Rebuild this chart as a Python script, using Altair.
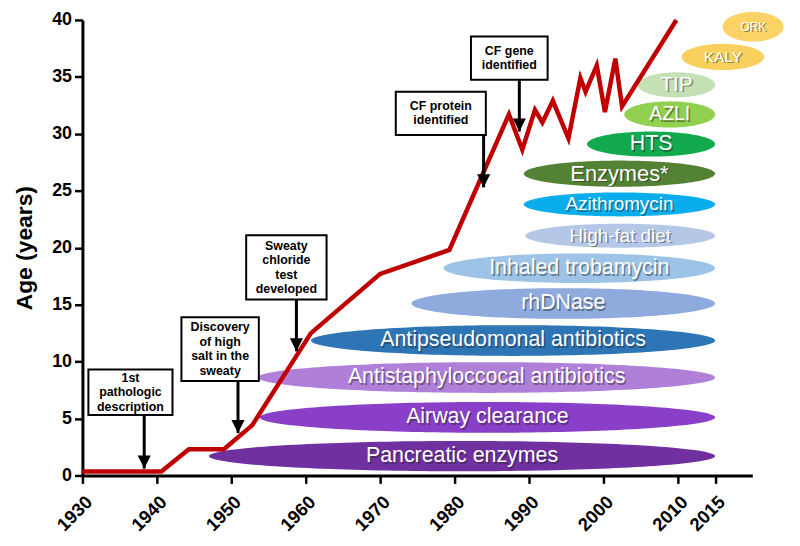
import altair as alt
import numpy as np
import pandas as pd

# ---- survival curve (median predicted age of survival) ----
curve_year = [1930, 1940.6, 1944.3, 1949, 1952.8, 1960.7, 1970, 1979.3, 1987.3, 1989.1,
              1990.8, 1991.8, 1993.2, 1995.3, 1996.9, 1997.6, 1999.1, 2000.2, 2001.6,
              2002.5, 2009.8]
curve_age = [0.35, 0.35, 2.3, 2.3, 4.4, 12.5, 17.7, 19.8, 31.7, 28.6,
             32.1, 31.0, 32.9, 29.6, 34.9, 33.7, 36.0, 31.9, 36.6,
             32.4, 40.0]

# ---- therapies (ellipses) ----
therapy = ["Pancreatic enzymes", "Airway clearance", "Antistaphyloccocal antibiotics",
           "Antipseudomonal antibiotics", "rhDNase", "Inhaled trobamycin", "High-fat diet",
           "Azithromycin", "Enzymes*", "HTS", "AZLI", "TIP", "KALY", "ORK"]
therapy_start = [1947, 1953.8, 1953.6, 1960.7, 1974.2, 1978.5, 1989.5,
                 1989.3, 1989.3, 1997.8, 2002.8, 2004.6, 2010.5, 2016]
therapy_end = [2015, 2015, 2015, 2015, 2015, 2015, 2015,
               2015, 2015, 2015, 2015, 2015, 2021.6, 2024.2]
therapy_age = [1.7, 5.1, 8.6, 11.85, 15.1, 18.2, 21.05,
               23.8, 26.5, 29.1, 31.7, 34.3, 36.75, 39.4]
therapy_half = [1.33, 1.35, 1.35, 1.35, 1.35, 1.3, 1.05,
                1.05, 1.15, 1.1, 1.15, 1.1, 1.15, 1.3]

# ---- annotations ----
note_lines = [["1st", "pathologic", "description"],
              ["Discovery", "of high", "salt in the", "sweaty"],
              ["Sweaty", "chloride", "test", "developed"],
              ["CF protein", "identified"],
              ["CF gene", "identified"]]
note_year = [1938.3, 1950.9, 1958.75, 1983.9, 1988.7]
note_tip = [0.6, 3.72, 10.9, 25.3, 30.2]
box_left = [1930.8, 1943.3, 1952.0, 1972.1, 1982.2]
box_right = [1942.1, 1953.7, 1962.8, 1984.2, 1992.5]
box_top = [9.3, 13.9, 21.1, 33.7, 38.55]
box_bottom = [5.3, 8.3, 15.45, 29.9, 34.75]

tick_years = [1930, 1940, 1950, 1960, 1970, 1980, 1990, 2000, 2010, 2015]

# ---- styles ----
therapy_colors = ["#7030A0", "#8A3FC8", "#B07FD8", "#2E75B6", "#8FAADC", "#9DC3E6", "#B4C7E7",
                  "#0AADEB", "#548235", "#13AA4E", "#92D050", "#C5E0B4", "#F9CF5E", "#FAD266"]
label_sizes = [21.5, 21.5, 21.5, 21.5, 21.5, 21.5, 19, 19, 22, 21.5, 19.5, 21, 15.5, 12]
FONT = "Liberation Sans"
W, H = 675, 459
Y_MAX = 40
LINE_GAP = 14.5 * Y_MAX / H   # 14.5 px between text lines, in age units

# ---- tables ----
curve = pd.DataFrame({"year": curve_year, "age": curve_age})
ther = pd.DataFrame({"name": therapy, "start": therapy_start, "end": therapy_end,
                     "age": therapy_age, "half": therapy_half, "fs": label_sizes})
ther["mid"] = (ther["start"] + ther["end"]) / 2

t = np.linspace(0, np.pi, 90)
rows = []
for _, r in ther.iterrows():
    a = (r["end"] - r["start"]) / 2
    for tt in t:
        rows.append({"name": r["name"], "x": r["mid"] - a * np.cos(tt),
                     "up": r["age"] + r["half"] * np.sin(tt),
                     "lo": r["age"] - r["half"] * np.sin(tt)})
shape = pd.DataFrame(rows)

notes = pd.DataFrame({"year": note_year, "tip": note_tip,
                      "l": box_left, "r": box_right, "t": box_top, "b": box_bottom})
line_rows = []
for i, lines in enumerate(note_lines):
    cx = (box_left[i] + box_right[i]) / 2
    cy = (box_top[i] + box_bottom[i]) / 2
    n = len(lines)
    for j, s in enumerate(lines):
        line_rows.append({"text": s, "cx": cx, "cy": cy + ((n - 1) / 2 - j) * LINE_GAP})
note_text = pd.DataFrame(line_rows)

xs = alt.Scale(domain=[1930, 2020], nice=False, zero=False)
ys = alt.Scale(domain=[0, Y_MAX], nice=False)
xaxis = alt.Axis(values=tick_years, format="d", labelAngle=-45, title=None, grid=False,
                 labelFontSize=18.5, labelFontWeight="bold", labelFont=FONT, labelColor="black",
                 domainColor="black", domainWidth=3, tickColor="black", tickWidth=2.5,
                 tickSize=8, labelPadding=9, labelOverlap=False)
yaxis = alt.Axis(values=list(range(0, 41, 5)), title="Age (years)", grid=False,
                 labelFontSize=18, labelFontWeight="bold", labelFont=FONT, labelColor="black",
                 titleFontSize=23, titleFontWeight="bold", titleFont=FONT, titleColor="black",
                 titlePadding=15, domainColor="black", domainWidth=3, tickColor="black",
                 tickWidth=2.5, tickSize=8, labelPadding=3)


def X(f):
    return alt.X(f, scale=xs, axis=xaxis)


def Y(f):
    return alt.Y(f, scale=ys, axis=yaxis)


ellipses = alt.Chart(shape).mark_area(opacity=1).encode(
    x=X("x:Q"), y=Y("up:Q"), y2="lo:Q",
    color=alt.Color("name:N", scale=alt.Scale(domain=therapy, range=therapy_colors), legend=None),
    detail="name:N",
)

shadow = alt.Chart(ther).mark_text(font=FONT, color="#222222", opacity=0.45, dx=1.5, dy=1.5,
                                   baseline="middle").encode(
    x=X("mid:Q"), y=Y("age:Q"), text="name:N",
    size=alt.Size("fs:Q", scale=None, legend=None))
labels = alt.Chart(ther).mark_text(font=FONT, color="white", baseline="middle").encode(
    x=X("mid:Q"), y=Y("age:Q"), text="name:N",
    size=alt.Size("fs:Q", scale=None, legend=None))

line = alt.Chart(curve).mark_line(color="#C00000", strokeWidth=4.5, strokeJoin="miter").encode(
    x=X("year:Q"), y=Y("age:Q"))

boxes = alt.Chart(notes).mark_rect(fill="white", stroke="black", strokeWidth=2).encode(
    x=X("l:Q"), x2="r:Q", y=Y("t:Q"), y2="b:Q")
box_text = alt.Chart(note_text).mark_text(font=FONT, fontWeight="bold", fontSize=12.5,
                                          color="black", baseline="middle").encode(
    x=X("cx:Q"), y=Y("cy:Q"), text="text:N")
shafts = alt.Chart(notes).mark_rule(color="black", strokeWidth=3).encode(
    x=X("year:Q"), y=Y("b:Q"), y2="tip:Q")
heads = alt.Chart(notes).mark_point(shape="M-1,-2L1,-2L0,0Z", filled=True, size=175,
                                    color="black", opacity=1).encode(
    x=X("year:Q"), y=Y("tip:Q"))

chart = alt.layer(ellipses, shadow, labels, line, shafts, heads, boxes, box_text).properties(
    width=W, height=H, background="white",
    autosize=alt.AutoSizeParams(type="none"),
    padding={"left": 75, "top": 10, "right": 40, "bottom": 62},
).configure_view(stroke=None)

chart.save("out.html", embed_options={"renderer": "svg", "actions": False})
